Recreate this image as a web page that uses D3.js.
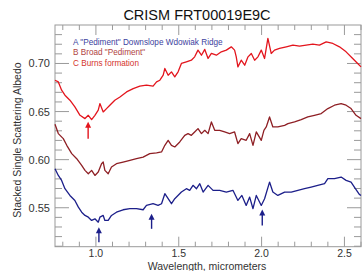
<!DOCTYPE html>
<html>
<head>
<meta charset="utf-8">
<script src="https://cdn.jsdelivr.net/npm/d3@7"></script>
<style>
  body { margin: 0; background: #fff; }
  svg { display: block; font-family: "Liberation Sans", Arial, sans-serif; }
</style>
</head>
<body>
<svg width="362" height="271"></svg>
<script>
// spectra: [wavelength (um), albedo]
const burns = [
  [0.753,0.6826],[0.773,0.6808],[0.793,0.6722],[0.813,0.6670],[0.843,0.6618],[0.873,0.6548],
  [0.904,0.6461],[0.934,0.6427],[0.954,0.6461],[0.974,0.6417],[0.994,0.6461],[1.014,0.6514],
  [1.024,0.6583],[1.044,0.6496],[1.064,0.6531],[1.084,0.6566],[1.114,0.6618],[1.145,0.6652],
  [1.185,0.6704],[1.225,0.6739],[1.265,0.6764],[1.305,0.6774],[1.345,0.6764],[1.366,0.6808],
  [1.386,0.6826],[1.406,0.6878],[1.416,0.6948],[1.436,0.6878],[1.456,0.6913],[1.476,0.6860],
  [1.496,0.6913],[1.516,0.7000],[1.546,0.7017],[1.576,0.7034],[1.596,0.7069],[1.616,0.7139],
  [1.637,0.7086],[1.657,0.7146],[1.677,0.7052],[1.697,0.7104],[1.727,0.7086],[1.757,0.7121],
  [1.787,0.7139],[1.817,0.7173],[1.837,0.7139],[1.847,0.7069],[1.857,0.6965],[1.877,0.7034],
  [1.898,0.6982],[1.918,0.7069],[1.938,0.7104],[1.958,0.7034],[1.978,0.7069],[1.998,0.7139],
  [2.018,0.7052],[2.038,0.7260],[2.058,0.7104],[2.078,0.7139],[2.108,0.7156],[2.149,0.7173],
  [2.189,0.7191],[2.229,0.7180],[2.269,0.7191],[2.309,0.7201],[2.349,0.7191],[2.390,0.7225],
  [2.430,0.7208],[2.470,0.7173],[2.510,0.7121],[2.550,0.7052],[2.580,0.7000],[2.600,0.6965]
];
const broad = [
  [0.753,0.6368],[0.773,0.6271],[0.803,0.6219],[0.824,0.6149],[0.854,0.6063],[0.884,0.6010],
  [0.914,0.5941],[0.934,0.5889],[0.954,0.5854],[0.974,0.5889],[0.994,0.5836],[1.014,0.5871],
  [1.034,0.5958],[1.044,0.5975],[1.054,0.5889],[1.074,0.5854],[1.094,0.5923],[1.124,0.5958],
  [1.164,0.5975],[1.205,0.5993],[1.245,0.6010],[1.285,0.6027],[1.325,0.6063],[1.366,0.6071],
  [1.396,0.6080],[1.416,0.6149],[1.436,0.6201],[1.456,0.6149],[1.476,0.6132],[1.506,0.6184],
  [1.536,0.6253],[1.556,0.6271],[1.576,0.6253],[1.596,0.6288],[1.616,0.6323],[1.637,0.6271],
  [1.657,0.6305],[1.677,0.6271],[1.697,0.6392],[1.717,0.6305],[1.747,0.6305],[1.777,0.6288],
  [1.807,0.6271],[1.837,0.6288],[1.857,0.6167],[1.877,0.6219],[1.907,0.6201],[1.928,0.6271],
  [1.948,0.6149],[1.968,0.6288],[1.998,0.6201],[2.014,0.6305],[2.028,0.6340],[2.048,0.6444],
  [2.068,0.6340],[2.098,0.6340],[2.139,0.6357],[2.159,0.6375],[2.199,0.6392],[2.239,0.6417],
  [2.279,0.6444],[2.319,0.6461],[2.360,0.6479],[2.400,0.6531],[2.440,0.6566],[2.480,0.6583],
  [2.510,0.6566],[2.540,0.6531],[2.570,0.6461],[2.600,0.6427]
];
const downslope = [
  [0.753,0.5906],[0.773,0.5836],[0.793,0.5784],[0.813,0.5698],[0.843,0.5628],[0.873,0.5576],
  [0.894,0.5506],[0.914,0.5454],[0.934,0.5420],[0.954,0.5402],[0.974,0.5368],[0.994,0.5385],
  [1.014,0.5350],[1.024,0.5402],[1.044,0.5420],[1.054,0.5368],[1.074,0.5368],[1.094,0.5420],
  [1.124,0.5454],[1.164,0.5479],[1.205,0.5490],[1.245,0.5490],[1.285,0.5479],[1.305,0.5524],
  [1.345,0.5542],[1.375,0.5524],[1.396,0.5542],[1.416,0.5646],[1.436,0.5594],[1.456,0.5542],
  [1.476,0.5594],[1.516,0.5663],[1.546,0.5698],[1.566,0.5681],[1.586,0.5733],[1.607,0.5698],
  [1.627,0.5750],[1.647,0.5663],[1.677,0.5733],[1.707,0.5681],[1.747,0.5681],[1.787,0.5663],
  [1.827,0.5681],[1.857,0.5576],[1.881,0.5628],[1.907,0.5524],[1.928,0.5611],[1.948,0.5490],
  [1.968,0.5628],[1.998,0.5524],[2.018,0.5594],[2.048,0.5767],[2.068,0.5663],[2.098,0.5628],
  [2.139,0.5663],[2.179,0.5663],[2.219,0.5681],[2.259,0.5698],[2.299,0.5715],[2.339,0.5733],
  [2.380,0.5750],[2.400,0.5802],[2.440,0.5802],[2.480,0.5819],[2.510,0.5785],[2.540,0.5767],
  [2.560,0.5715],[2.590,0.5639],[2.600,0.5628]
];

const legendLabels = ['A "Pediment" Downslope Wdowiak Ridge', 'B Broad "Pediment"', 'C Burns formation'];
// absorption arrows: wavelength, tail albedo, head albedo, series
const arrows = [
  [0.953, 0.6217, 0.6394, 'C'],
  [1.018, 0.5142, 0.5298, 'A'],
  [1.336, 0.5281, 0.5438, 'A'],
  [2.004, 0.5316, 0.5482, 'A']
];
const xMajor = [1.0, 1.5, 2.0, 2.5];
const yMajor = [0.55, 0.60, 0.65, 0.70];

const colors = { A: "#1c1f8a", B: "#8e1f24", C: "#e3151d" };
const textColors = { A: "#3d3f9e", B: "#b0443f", C: "#d4342c" };

const svg = d3.select("svg");
const mLeft = 55, mRight = 361, mTop = 25, mBottom = 246.7;

const x = d3.scaleLinear().domain([0.753, 2.60]).range([mLeft, mRight]);
const y = d3.scaleLinear().domain([0.5095, 0.7400]).range([mBottom, mTop]);

const axisColor = "#9a9a9a";
const g = svg.append("g");

// frame
g.append("rect")
  .attr("x", mLeft).attr("y", mTop)
  .attr("width", mRight - mLeft).attr("height", mBottom - mTop)
  .attr("fill", "none").attr("stroke", axisColor).attr("stroke-width", 1);

// ticks (inward, IDL style)
const xMinor = d3.range(8, 27).map(d => d / 10).filter(d => !xMajor.some(m => Math.abs(m - d) < 1e-6));
const yMinor = d3.range(51, 74).map(d => d / 100).filter(d => !yMajor.some(m => Math.abs(m - d) < 1e-6));

const tick = (x1, y1, x2, y2) => g.append("line")
  .attr("x1", x1).attr("y1", y1).attr("x2", x2).attr("y2", y2)
  .attr("stroke", axisColor).attr("stroke-width", 1);

xMajor.forEach(v => { tick(x(v), mBottom, x(v), mBottom - 10); tick(x(v), mTop, x(v), mTop + 10); });
xMinor.forEach(v => { tick(x(v), mBottom, x(v), mBottom - 5); tick(x(v), mTop, x(v), mTop + 5); });
yMajor.forEach(v => { tick(mLeft, y(v), mLeft + 14, y(v)); tick(mRight, y(v), mRight - 14, y(v)); });
yMinor.forEach(v => { tick(mLeft, y(v), mLeft + 7, y(v)); tick(mRight, y(v), mRight - 7, y(v)); });

// tick labels
g.selectAll(".xl").data(xMajor).enter().append("text")
  .attr("x", d => x(d)).attr("y", 257)
  .attr("text-anchor", "middle").attr("font-size", 10.5).attr("fill", "#333")
  .text(d3.format(".1f"));
g.selectAll(".yl").data(yMajor).enter().append("text")
  .attr("x", 50).attr("y", d => y(d) + 4)
  .attr("text-anchor", "end").attr("font-size", 11).attr("fill", "#333")
  .text(d3.format(".2f"));

// titles
svg.append("text").attr("x", 197).attr("y", 20).attr("text-anchor", "middle")
  .attr("font-size", 14.5).attr("fill", "#111").text("CRISM FRT00019E9C");
svg.append("text").attr("x", 207).attr("y", 269.5).attr("text-anchor", "middle")
  .attr("font-size", 10.5).attr("fill", "#333").text("Wavelength, micrometers");
svg.append("text").attr("transform", "translate(21,140) rotate(-90)").attr("text-anchor", "middle")
  .attr("font-size", 10.5).attr("fill", "#333").text("Stacked Single Scattering Albedo");

// spectra
const line = d3.line().x(d => x(d[0])).y(d => y(d[1]));
[["A", downslope], ["B", broad], ["C", burns]].forEach(([k, data]) => {
  svg.append("path").datum(data)
    .attr("d", line).attr("fill", "none")
    .attr("stroke", colors[k]).attr("stroke-width", 1.3)
    .attr("stroke-linejoin", "round");
});

// arrows
arrows.forEach(([w, from, to, k]) => {
  const px = x(w), y0 = y(from), y1 = y(to);
  svg.append("line").attr("x1", px).attr("x2", px).attr("y1", y0).attr("y2", y1 + 4)
    .attr("stroke", colors[k]).attr("stroke-width", 1.4);
  svg.append("path")
    .attr("d", `M${px},${y1} L${px - 3},${y1 + 6} L${px + 3},${y1 + 6} Z`)
    .attr("fill", colors[k]);
});

// legend
["A", "B", "C"].forEach((k, i) => {
  svg.append("text").attr("x", 73).attr("y", 44.5 + i * 10.8)
    .attr("font-size", 8.2).attr("fill", textColors[k]).text(legendLabels[i]);
});
</script>
</body>
</html>
